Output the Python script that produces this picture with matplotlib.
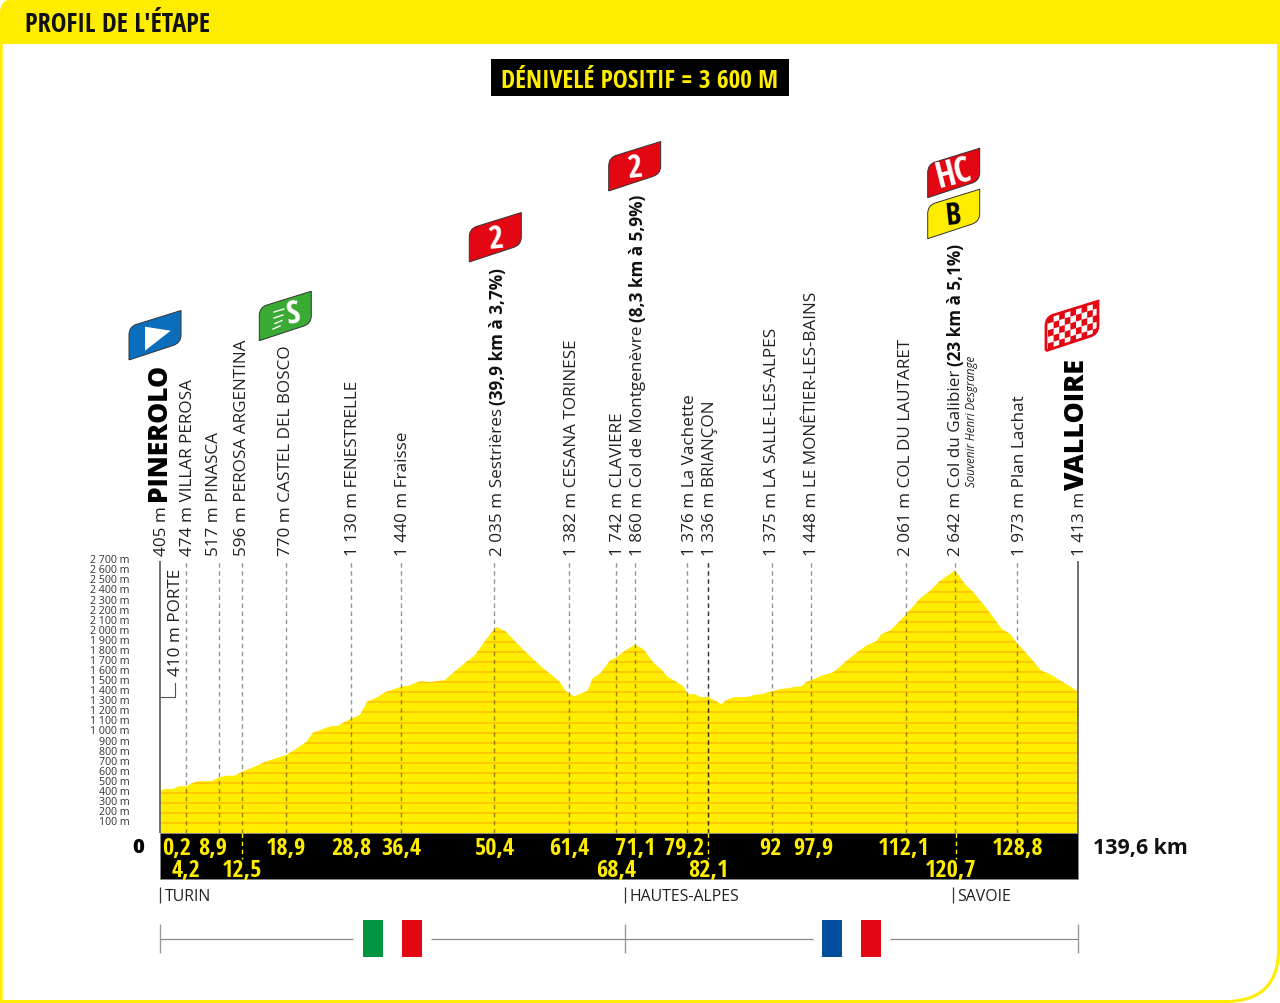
import matplotlib
matplotlib.use('Agg')
import matplotlib.pyplot as plt
from matplotlib.path import Path
from matplotlib.patches import PathPatch, Polygon, Rectangle

plt.rcParams['font.family'] = ['Open Sans', 'DejaVu Sans']
NARROW = ['Open Sans Condensed', 'Fira Sans Extra Condensed', 'Open Sans', 'DejaVu Sans']

YELLOW = '#ffed00'
RED = '#e30613'

# profil : km sur l'axe, altitude en m
profile_km = [0, 0.8, 2.0, 2.8, 4.0, 4.8, 5.8, 7.9, 9.0, 10.1, 11.3, 12.4, 14.7, 16.0, 19.2, 20.8, 22.3, 23.2,
              25.3, 26.1, 27.1, 28.4, 29.2, 30.4, 31.5, 33.0, 34.2, 35.7, 36.8, 37.7, 39.5, 41.1, 43.3, 45.6,
              47.9, 50.2, 51.2, 52.5, 54.7, 57.8, 59.8, 60.8, 61.8, 63.0, 64.1, 65.0, 65.8, 67.0, 68.4, 69.4,
              70.7, 72.2, 73.5, 75.0, 76.3, 77.1, 79.6, 80.2, 81.4, 82.2, 83.4, 84.4, 85.4, 86.2, 87.4, 89.2,
              90.5, 91.5, 93.1, 94.3, 95.5, 96.6, 97.6, 98.3, 99.0, 100.9, 102.4, 103.4, 104.4, 106.2, 107.7,
              108.9, 109.7, 111.0, 113.4, 115.6, 117.1, 118.6, 120.9, 122.4, 123.7, 126.0, 128.0, 129.3, 130.3,
              132.3, 134.0, 135.3, 137.1, 138.4, 139.6]
profile_alt = [423, 440, 440, 467, 467, 496, 516, 519, 556, 572, 572, 609, 671, 711, 778, 844, 910, 996,
               1049, 1065, 1068, 1118, 1142, 1175, 1307, 1350, 1400, 1433, 1460, 1463, 1509, 1502, 1522, 1651,
               1771, 1979, 2048, 2008, 1859, 1664, 1559, 1502, 1406, 1360, 1390, 1413, 1539, 1592, 1714, 1748,
               1813, 1873, 1830, 1698, 1625, 1559, 1460, 1383, 1380, 1353, 1353, 1317, 1281, 1327, 1353, 1353,
               1376, 1383, 1410, 1433, 1440, 1456, 1460, 1505, 1519, 1572, 1599, 1654, 1714, 1807, 1877,
               1903, 1979, 2012, 2171, 2334, 2409, 2508, 2608, 2476, 2393, 2210, 2029, 1979, 1889,
               1748, 1615, 1582, 1509, 1459, 1406]

alt_ticks = list(range(100, 2800, 100))
alt_labels = ['%d m' % a if a < 1000 else '%d %03d m' % (a // 1000, a % 1000) for a in alt_ticks]

# position des pointillés sur le profil
pass_pos = [3.95, 8.97, 12.4, 19.16, 29.1, 36.7, 50.8, 62.2, 69.4, 72.2, 80.1, 83.4, 93.1, 99.0, 113.4, 120.9, 130.3]

pass_labels = ['474 m VILLAR PEROSA', '517 m PINASCA', '596 m PEROSA ARGENTINA', '770 m CASTEL DEL BOSCO',
               '1 130 m FENESTRELLE', '1 440 m Fraisse', '2 035 m Sestrières', '1 382 m CESANA TORINESE',
               '1 742 m CLAVIERE', '1 860 m Col de Montgenèvre', '1 376 m La Vachette', '1 336 m BRIANÇON',
               '1 375 m LA SALLE-LES-ALPES', '1 448 m LE MONÊTIER-LES-BAINS', '2 061 m COL DU LAUTARET',
               '2 642 m Col du Galibier', '1 973 m Plan Lachat']
climb_details = {6: '(39,9 km à 3,7%)', 9: '(8,3 km à 5,9%)', 15: '(23 km à 5,1%)'}

km_row1 = ['0,2', '8,9', '18,9', '28,8', '36,4', '50,4', '61,4', '71,1', '79,2', '92', '97,9', '112,1', '128,8']
km_row2 = ['4,2', '12,5', '68,4', '82,1', '120,7']
departments = ['TURIN', 'HAUTES-ALPES', 'SAVOIE']

fig = plt.figure(figsize=(12.8, 10.04), dpi=100, facecolor='white')

# calque en pixels pour tout l'habillage
ov = fig.add_axes([0, 0, 1, 1], zorder=1)
ov.set_xlim(0, 1280)
ov.set_ylim(1004, 0)
ov.axis('off')

ax = fig.add_axes([160 / 1280, (1004 - 834.3) / 1004, 918 / 1280, 274.3 / 1004], zorder=2)
ax.patch.set_alpha(0)
ax.set_xlim(0, 139.6)
ax.set_ylim(0, 2724)
ax.axis('off')

# le profil
xs = profile_km + [139.6, 0]
ys = profile_alt + [0, 0]
hill = ax.fill(xs, ys, color=YELLOW, lw=0)[0]
grid = ax.hlines(alt_ticks, 0, 139.6, color='#ffbe00', lw=1.1)
grid.set_clip_path(hill)
ax.vlines(pass_pos, 0, 2700, color='black', alpha=0.42, lw=1, linestyles=(0, (3.2, 2.6)))
ax.vlines([83.4], 0, 2700, color='black', alpha=0.6, lw=1, linestyles=(0, (3.2, 2.6)))
ax.vlines([0, 139.6], 0, 2700, color='#666666', lw=1.3, clip_on=False)

for a, lab in zip(alt_ticks, alt_labels):
    ax.annotate(lab, xy=(0, a), xytext=(-21.7, 1.2), textcoords='offset points', ha='right', va='center',
                fontsize=7.7, color='#333333', annotation_clip=False)

# cadre et bandeau
frame = Path([(1.2, 40), (1.2, 1002.6), (1225, 1002.6), (1278.6, 1002.6), (1278.6, 950), (1278.6, 40)],
             [Path.MOVETO, Path.LINETO, Path.LINETO, Path.CURVE3, Path.CURVE3, Path.LINETO])
ov.add_patch(PathPatch(frame, fc='none', ec=YELLOW, lw=2.2))
head = Path([(0, 45), (0, 14), (0, 0), (14, 0), (1280, 0), (1280, 45), (0, 45)],
            [Path.MOVETO, Path.LINETO, Path.CURVE3, Path.CURVE3, Path.LINETO, Path.LINETO, Path.CLOSEPOLY])
ov.add_patch(PathPatch(head, fc=YELLOW, ec='none'))
ov.text(25, 25, "PROFIL DE L'ÉTAPE", family=NARROW, weight='bold', fontsize=18.9, va='center', color='#111111')
ov.add_patch(Rectangle((491, 59.5), 297.5, 37.2, fc='black', ec='none'))
ov.text(639.5, 82, 'DÉNIVELÉ POSITIF = 3 600 M', family=NARROW, weight='bold', fontsize=18.3, ha='center',
        va='center', color=YELLOW)

# bande kilométrique
ov.add_patch(Rectangle((160, 834.3), 918, 45.7, fc='black', ec='#888888', lw=0.6))
ov.vlines([241.5, 708.3, 955.5], 834.3, 860, color=YELLOW, lw=1, linestyles=(0, (3.2, 2.6)))
ov.text(138, 848, '0', fontsize=14.5, weight='heavy', ha='center', va='center', color='black')
ov.text(1093, 848.5, '139,6 km', fontsize=15.4, weight='bold', ha='left', va='center', color='#111111')

row1_x = [177, 212.6, 286, 351.5, 401.5, 495, 569, 635, 684, 770, 813, 904, 1018]
row2_x = [186, 241.5, 616.5, 708, 950.5]
for x, lab in zip(row1_x, km_row1):
    ov.text(x, 849, lab, family=NARROW, weight='bold', fontsize=17.5, ha='center', va='center', color=YELLOW)
for x, lab in zip(row2_x, km_row2):
    ov.text(x, 871, lab, family=NARROW, weight='bold', fontsize=17.5, ha='center', va='center', color=YELLOW)

# textes verticaux
label_x = [187.5, 214, 242.5, 286.5, 353, 403, 497.5, 571.5, 618.5, 637.5, 689.5, 710.5, 772.5, 811.5, 906.5, 956.5, 1019.5]
for i, (x, lab) in enumerate(zip(label_x, pass_labels)):
    t = ov.text(x, 556, lab, rotation=90, fontsize=12.3, ha='center', va='bottom', color='#222222')
    if i in climb_details:
        ov.annotate(climb_details[i], xy=(0.5, 1), xycoords=t, xytext=(0, 2.5), textcoords='offset points',
                    rotation=90, fontsize=12.3, weight='bold', ha='center', va='bottom', color='#111111')

ov.text(161.5, 556, '405 m', rotation=90, fontsize=12.3, ha='center', va='bottom', color='#222222')
ov.text(158.5, 501, 'PINEROLO', rotation=90, fontsize=19, weight='heavy', ha='center', va='bottom', color='black')
ov.text(1079.5, 556, '1 413 m', rotation=90, fontsize=12.3, ha='center', va='bottom', color='#222222')
ov.text(1077, 490, 'VALLOIRE', rotation=90, fontsize=19.3, weight='heavy', ha='center', va='bottom', color='black')
ov.text(972, 487, 'Souvenir Henri Desgrange', rotation=90, fontsize=8.3, style='italic', ha='center', va='bottom',
        color='#222222')
ov.text(176.5, 676, '410 m PORTE', rotation=90, fontsize=12.3, ha='center', va='bottom', color='#222222')
ov.plot([160, 175, 175], [698, 698, 684], color='#555555', lw=0.8)

# départements
for x, lab in zip([160, 624.6, 953], departments):
    ov.vlines(x, 888, 904, color='#333333', lw=0.9)
    ov.text(x + 4.5, 897, lab, fontsize=11.4, va='center', ha='left', color='#222222')

# pays et drapeaux
for x0, x1 in [(160, 353), (431, 813), (890, 1078)]:
    ov.hlines(939.5, x0, x1, color='#888888', lw=0.9)
ov.vlines([160, 625, 1078], 925, 954, color='#999999', lw=1)
flags = [(362.5, '#009640'), (402, RED), (821.5, '#004f9f'), (861, RED)]
for x, col in flags:
    ov.add_patch(Rectangle((x, 920.5), 20, 37.5, fc=col, ec='none'))


def flag_path(x, y):
    verts = [(0, 0), (0, -25), (0, -33), (7, -35.5), (52, -49.5), (52, -25), (52, -17), (44, -14.5), (0, 0)]
    codes = [Path.MOVETO, Path.LINETO, Path.CURVE3, Path.CURVE3, Path.LINETO, Path.LINETO, Path.CURVE3,
             Path.CURVE3, Path.LINETO]
    return Path([(x + a, y + b) for a, b in verts], codes)


def draw_flag(x, y, col, edge='#333333', lw=0.7):
    p = PathPatch(flag_path(x, y), fc=col, ec=edge, lw=lw)
    ov.add_patch(p)
    return p


draw_flag(129, 361, '#0a6ebd')
ov.add_patch(Polygon([(145, 327.7), (170.7, 331.7), (145, 351.7)], fc='white', ec='none'))

draw_flag(259.3, 341.7, '#3aaa35')
ov.text(293.5, 315, 'S', family=NARROW, weight='bold', style='italic', fontsize=24, color='white', ha='center',
        va='center', rotation=8)
for yy, x0, x1 in [(313, 274, 284), (319, 274, 283), (324.5, 275, 282), (330, 273, 280)]:
    ov.plot([x0, x1], [yy, yy - 3], color='white', lw=1)

draw_flag(469.3, 263, RED)
ov.text(495.5, 240, '2', family=NARROW, weight='bold', fontsize=23, color='white', ha='center', va='center', rotation=6)
draw_flag(608.7, 192, RED)
ov.text(634.7, 169, '2', family=NARROW, weight='bold', fontsize=23, color='white', ha='center', va='center', rotation=6)
draw_flag(927.7, 198.7, RED)
ov.text(953.5, 175, 'HC', family=NARROW, weight='bold', fontsize=25, color='white', ha='center', va='center', rotation=14)
draw_flag(927.7, 239.7, YELLOW)
ov.text(953, 216, 'B', family=NARROW, weight='bold', fontsize=22, color='black', ha='center', va='center', rotation=6)

# arrivée à damier
chk = draw_flag(1046, 351.7, 'white', edge=RED, lw=2)
for i in range(9):
    for j in range(7):
        if (i + j) % 2 == 0:
            x = 1048 + i * 5.6
            y = 351 - j * 6.6 - i * 5.6 * 0.31
            sq = Polygon([(x, y), (x + 5.6, y - 1.7), (x + 5.6, y - 8.3), (x, y - 6.6)], fc=RED, ec='none')
            ov.add_patch(sq)
            sq.set_clip_path(chk)

fig.savefig('out.png', dpi=100)
